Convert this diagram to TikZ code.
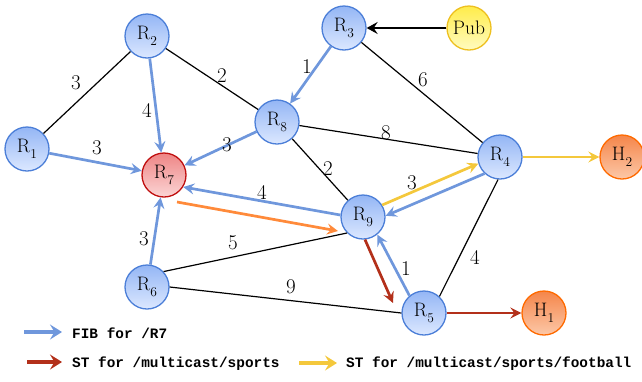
\documentclass[tikz,border=0pt]{standalone}
\usepackage{fontspec}
\setmonofont{Liberation Mono}
\usetikzlibrary{arrows.meta,calc}
\definecolor{fibblue}{HTML}{6F97DC}
\definecolor{nodeborder}{HTML}{4C7FD8}
\definecolor{nodetop}{HTML}{94B6F5}
\definecolor{nodebot}{HTML}{DCE8FF}
\definecolor{redborder}{HTML}{C01010}
\definecolor{redtop}{HTML}{EE8585}
\definecolor{redbot}{HTML}{FBD5D5}
\definecolor{stred}{HTML}{B3301A}
\definecolor{styellow}{HTML}{F4C83C}
\definecolor{orangearr}{HTML}{FF8A3A}
\definecolor{pubtop}{HTML}{FFEC4A}
\definecolor{pubbot}{HTML}{FFFBC0}
\definecolor{pubborder}{HTML}{EEC020}
\definecolor{htop}{HTML}{F5864A}
\definecolor{hbot}{HTML}{FCC8A8}
\definecolor{hborder}{HTML}{FF6A00}
\newcommand\Rsub[2]{#1\kern0.3pt\raisebox{-0.3em}{\fontsize{13.5}{13.5}\selectfont #2}}
\tikzset{
  base/.style={circle, minimum size=44pt, inner sep=0pt, line width=1.3pt,
    font=\fontsize{19.5}{19.5}\selectfont, shading angle=20},
  rnode/.style={base, draw=nodeborder, top color=nodetop, bottom color=nodebot},
  dnode/.style={base, draw=redborder, top color=redtop, bottom color=redbot},
  pnode/.style={base, draw=pubborder, top color=pubtop, bottom color=pubbot},
  hnode/.style={base, draw=hborder, top color=htop, bottom color=hbot},
  link/.style={draw=black, line width=1.2pt},
  tipA/.style={-{Stealth[length=11pt,width=11pt,inset=4pt]}},
  fib/.style={tipA, draw=fibblue, line width=2.7pt},
  stred/.style={tipA, draw=stred, line width=2.7pt},
  styel/.style={tipA, draw=styellow, line width=2.7pt},
  orarr/.style={tipA, draw=orangearr, line width=2.7pt},
  pubarr/.style={-{Stealth[length=11pt,width=12pt,inset=4pt]}, draw=black, line width=2.3pt},
  lbl/.style={inner sep=0pt, font=\fontsize{21}{21}\selectfont},
  legarr/.style={-{Stealth[length=12pt,width=15pt,inset=4.5pt]}, line width=4.2pt},
  legtext/.style={anchor=west, inner sep=0pt, font=\ttfamily\bfseries\fontsize{14.4}{14.4}\selectfont}
}
\begin{document}
\begin{tikzpicture}[x=1pt,y=-1pt]
\useasboundingbox (0,0) rectangle (642,381);
% nodes
\node[rnode] (R1) at (27,149) {\Rsub{R}{1}};
\node[rnode] (R2) at (147,36) {\Rsub{R}{2}};
\node[rnode] (R3) at (344,28) {\Rsub{R}{3}};
\node[pnode] (Pub) at (469,28) {Pub};
\node[rnode] (R8) at (277,122) {\Rsub{R}{8}};
\node[dnode] (R7) at (164,175) {\Rsub{R}{7}};
\node[rnode] (R4) at (500,157) {\Rsub{R}{4}};
\node[hnode] (H2) at (622,157) {\Rsub{H}{2}};
\node[rnode] (R9) at (363,217) {\Rsub{R}{9}};
\node[rnode] (R6) at (147,287) {\Rsub{R}{6}};
\node[rnode] (R5) at (424,313) {\Rsub{R}{5}};
\node[hnode] (H1) at (544,313) {\Rsub{H}{1}};
% free ends
\coordinate (oa) at (177,202);
\coordinate (ob) at (338,231);
\coordinate (re) at (393,303);
% black links
\draw[link] (R1) -- (R2);
\draw[link] (R2) -- (R8);
\draw[link] (R3) -- (R4);
\draw[link] (R8) -- (R4);
\draw[link] (R8) -- (R9);
\draw[link] (R6.43) -- (R9.225);
\draw[link] (R6.east) -- (R5.west);
\draw[link] (R4.265) -- (R5.47);
\draw[pubarr] (Pub) -- (R3);
% FIB arrows
\draw[fib] (R1) -- (R7);
\draw[fib] (R2) -- (R7);
\draw[fib] (R8) -- (R7);
\draw[fib] (R3) -- (R8);
\draw[fib] (R6) -- (R7);
\draw[fib] (R9.175) -- (R7.-32);
\draw[fib] (R4.227) -- (R9.3);
\draw[fib] (R5.130) -- (R9.309);
% ST arrows
\draw[styel] (R9.32) -- (R4.197);
\draw[styel] (R4) -- (H2);
\draw[stred] (R9.275) -- (re);
\draw[stred] (R5) -- (H1);
\draw[orarr] (oa) -- (ob);
% weights
\node[lbl] (w1) at (76,83) {3};
\node[lbl] (w2) at (222,76) {2};
\node[lbl] (w3) at (147,110) {4};
\node[lbl] (w4) at (97,148) {3};
\node[lbl] (w5) at (227,145) {3};
\node[lbl] (w6) at (307,67) {1};
\node[lbl] (w7) at (423,80) {6};
\node[lbl] (w8) at (386,133) {8};
\node[lbl] (w9) at (328,169) {2};
\node[lbl] (w10) at (412,183) {3};
\node[lbl] (w11) at (262,192) {4};
\node[lbl] (w12) at (144,239) {3};
\node[lbl] (w13) at (233,243) {5};
\node[lbl] (w14) at (291,287) {9};
\node[lbl] (w15) at (406,269) {1};
\node[lbl] (w16) at (475,257) {4};
% legend
\coordinate (la1) at (24,332); \coordinate (lb1) at (62,332);
\coordinate (la2) at (27,362); \coordinate (lb2) at (62,362);
\coordinate (la3) at (299,363); \coordinate (lb3) at (337,363);
\draw[legarr, draw=fibblue] (la1) -- (lb1);
\draw[legarr, draw=stred] (la2) -- (lb2);
\draw[legarr, draw=styellow] (la3) -- (lb3);
\node[legtext] (t1) at (72,333) {FIB for /R7};
\node[legtext] (t2) at (72,364) {ST for /multicast/sports};
\node[legtext] (t3) at (346,364) {ST for /multicast/sports/football};
\end{tikzpicture}
\end{document}
